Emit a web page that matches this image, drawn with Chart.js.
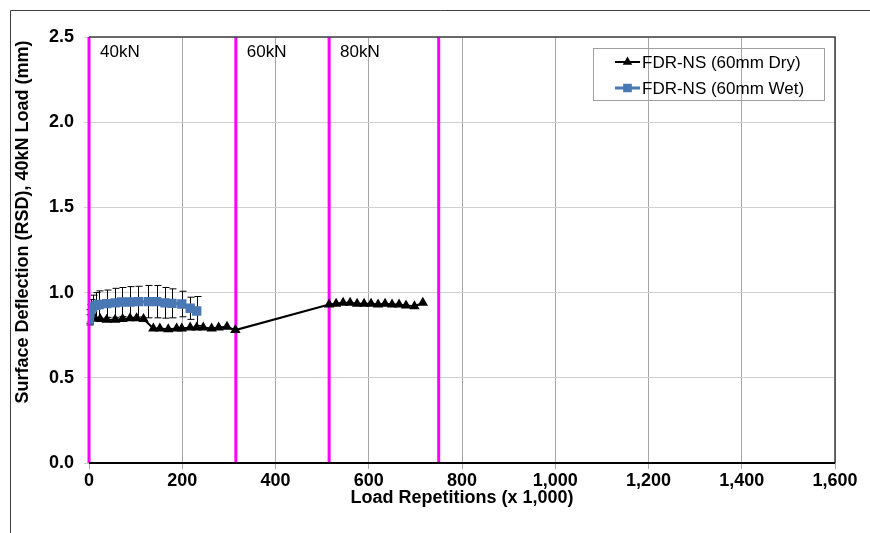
<!DOCTYPE html>
<html>
<head>
<meta charset="utf-8">
<script src="https://cdn.jsdelivr.net/npm/chart.js@4.4.1/dist/chart.umd.min.js"></script>
<style>
    html, body { margin: 0; padding: 0; background: #fff; }
</style>
</head>
<body>
<canvas id="deflectionChart" width="870" height="533"></canvas>
<script>
// Load repetitions (x 1,000) and surface deflection (mm)
const dryX = [0, 5, 13, 24, 38, 56, 72, 88, 102, 117, 138, 152, 170, 188, 199, 217, 231, 245, 263, 278, 296, 314,
              515, 530, 545, 560, 575, 590, 605, 620, 635, 650, 665, 680, 698, 716];
const dryY = [0.83, 0.86, 0.85, 0.845, 0.84, 0.84, 0.845, 0.85, 0.85, 0.845, 0.79, 0.79, 0.785, 0.79, 0.79, 0.795, 0.795, 0.795, 0.79, 0.795, 0.80, 0.78,
              0.93, 0.935, 0.94, 0.94, 0.935, 0.935, 0.935, 0.93, 0.935, 0.93, 0.93, 0.925, 0.92, 0.94];

const wetX = [0, 1, 2, 4, 8, 15, 22, 38, 56, 70, 88, 106, 127, 145, 163, 178, 199, 217, 231];
const wetY = [0.84, 0.86, 0.88, 0.90, 0.915, 0.925, 0.93, 0.935, 0.94, 0.945, 0.945, 0.947, 0.947, 0.947, 0.94, 0.937, 0.933, 0.908, 0.892];
const wetErr = [0.03, 0.04, 0.05, 0.06, 0.07, 0.075, 0.08, 0.08, 0.085, 0.085, 0.09, 0.09, 0.095, 0.095, 0.09, 0.085, 0.075, 0.065, 0.085];

const loadStageX = [0, 315, 515, 750];
const loadStageLabels = ["40kN", "60kN", "80kN"];
const seriesNames = ["FDR-NS (60mm Dry)", "FDR-NS (60mm Wet)"];

const xTicks = [0, 200, 400, 600, 800, 1000, 1200, 1400, 1600];
const yTicks = [0.0, 0.5, 1.0, 1.5, 2.0, 2.5];

const FONT = "'Liberation Sans', Arial, sans-serif";
const BLUE = "#4a78b4";
const MAGENTA = "#ff00ff";

function toPoints(xs, ys) {
    return xs.map((x, i) => ({ x: x, y: ys[i] }));
}

let datasets = [
    {
        label: seriesNames[0],
        data: toPoints(dryX, dryY),
        borderColor: "#000",
        backgroundColor: "#000",
        borderWidth: 2,
        pointStyle: "triangle",
        pointRadius: 4,
        showLine: true,
        order: 1
    },
    {
        label: seriesNames[1],
        data: toPoints(wetX, wetY),
        borderColor: BLUE,
        backgroundColor: BLUE,
        borderWidth: 3,
        pointStyle: "rect",
        pointRadius: 4.5,
        showLine: true,
        order: 0
    }
];

for (const x of loadStageX) {
    datasets.push({
        label: "stage",
        data: [{ x: x, y: yTicks[0] }, { x: x, y: yTicks[yTicks.length - 1] }],
        borderColor: MAGENTA,
        borderWidth: 3,
        pointRadius: 0,
        showLine: true,
        clip: false,
        order: 10
    });
}

const chartDecor = {
    id: "chartDecor",
    beforeDraw(chart) {
        const ctx = chart.ctx;
        ctx.save();
        ctx.fillStyle = "#fff";
        ctx.fillRect(0, 0, chart.width, chart.height);
        // outer frame
        ctx.strokeStyle = "#404040";
        ctx.lineWidth = 1;
        ctx.beginPath();
        ctx.moveTo(10.5, chart.height);
        ctx.lineTo(10.5, 10.5);
        ctx.lineTo(chart.width, 10.5);
        ctx.stroke();
        ctx.restore();
    },
    beforeDatasetsDraw(chart) {
        const ctx = chart.ctx;
        const xs = chart.scales.x, ys = chart.scales.y;
        ctx.save();
        ctx.strokeStyle = "#000";
        ctx.lineWidth = 1;
        for (let i = 0; i < wetX.length; i++) {
            const px = Math.round(xs.getPixelForValue(wetX[i])) + 0.5;
            const top = ys.getPixelForValue(wetY[i] + wetErr[i]);
            const bot = ys.getPixelForValue(wetY[i] - wetErr[i]);
            ctx.beginPath();
            ctx.moveTo(px, top);
            ctx.lineTo(px, bot);
            ctx.moveTo(px - 3, top);
            ctx.lineTo(px + 4, top);
            ctx.moveTo(px - 3, bot);
            ctx.lineTo(px + 4, bot);
            ctx.stroke();
        }
        ctx.restore();
    },
    afterDraw(chart) {
        const ctx = chart.ctx;
        const area = chart.chartArea;
        const xs = chart.scales.x;
        ctx.save();

        // plot area border
        ctx.strokeStyle = "#404040";
        ctx.lineWidth = 1.5;
        ctx.beginPath();
        ctx.moveTo(area.left, area.top);
        ctx.lineTo(area.right, area.top);
        ctx.lineTo(area.right, area.bottom);
        ctx.stroke();
        ctx.strokeStyle = "#000";
        ctx.lineWidth = 2;
        ctx.beginPath();
        ctx.moveTo(area.left, area.bottom);
        ctx.lineTo(area.right, area.bottom);
        ctx.stroke();

        // load stage labels
        ctx.fillStyle = "#000";
        ctx.font = "17px " + FONT;
        ctx.textBaseline = "middle";
        ctx.textAlign = "left";
        for (let i = 0; i < loadStageLabels.length; i++) {
            ctx.fillText(loadStageLabels[i], xs.getPixelForValue(loadStageX[i]) + 11, 52);
        }

        // axis titles
        ctx.font = "bold 18px " + FONT;
        ctx.textAlign = "center";
        ctx.fillText("Load Repetitions (x 1,000)", 462, 498);
        ctx.save();
        ctx.translate(23, 222);
        ctx.rotate(-Math.PI / 2);
        ctx.fillText("Surface Deflection (RSD), 40kN Load (mm)", 0, 0);
        ctx.restore();

        // legend
        ctx.strokeStyle = "#a0a0a0";
        ctx.lineWidth = 1;
        ctx.strokeRect(593.5, 48.5, 231, 52);
        ctx.font = "17px " + FONT;
        ctx.textAlign = "left";
        const rows = [62, 88];
        for (let i = 0; i < 2; i++) {
            const ds = chart.data.datasets[i];
            ctx.strokeStyle = ds.borderColor;
            ctx.lineWidth = ds.borderWidth;
            ctx.beginPath();
            ctx.moveTo(615, rows[i]);
            ctx.lineTo(640, rows[i]);
            ctx.stroke();
            Chart.helpers.drawPoint(ctx, {
                pointStyle: ds.pointStyle,
                radius: i === 0 ? 3.5 : 4,
                borderWidth: 1
            }, 627.5, rows[i]);
            ctx.fillStyle = ds.backgroundColor;
            ctx.fill();
            ctx.fillStyle = "#000";
            ctx.fillText(seriesNames[i], 642, rows[i] + 1);
        }
        ctx.restore();
    }
};

new Chart(document.getElementById("deflectionChart").getContext("2d"), {
    type: "scatter",
    data: { datasets: datasets },
    plugins: [chartDecor],
    options: {
        responsive: false,
        animation: false,
        layout: {
            autoPadding: false,
            padding: { top: 37, right: 35, left: 0, bottom: 0 }
        },
        plugins: {
            legend: { display: false },
            tooltip: { enabled: false }
        },
        scales: {
            x: {
                type: "linear",
                min: xTicks[0],
                max: xTicks[xTicks.length - 1],
                afterFit: function(scale) { scale.height = 70; },
                afterBuildTicks: function(scale) { scale.ticks = xTicks.map(v => ({ value: v })); },
                ticks: {
                    color: "#000",
                    padding: 1,
                    maxRotation: 0,
                    font: { family: FONT, size: 18, weight: "bold" },
                    callback: function(v) { return v.toLocaleString("en-US"); }
                },
                grid: {
                    color: "#a6a6a6",
                    lineWidth: 1,
                    tickLength: 6,
                    drawTicks: true
                },
                border: { display: false }
            },
            y: {
                type: "linear",
                min: yTicks[0],
                max: yTicks[yTicks.length - 1],
                afterFit: function(scale) { scale.width = 89; },
                afterBuildTicks: function(scale) { scale.ticks = yTicks.map(v => ({ value: v })); },
                ticks: {
                    color: "#000",
                    padding: 10,
                    font: { family: FONT, size: 18, weight: "bold" },
                    callback: function(v) { return v.toFixed(1); }
                },
                grid: {
                    color: "#d0d0d0",
                    lineWidth: 1,
                    tickLength: 5
                },
                border: { display: false }
            }
        }
    }
});
</script>
</body>
</html>
